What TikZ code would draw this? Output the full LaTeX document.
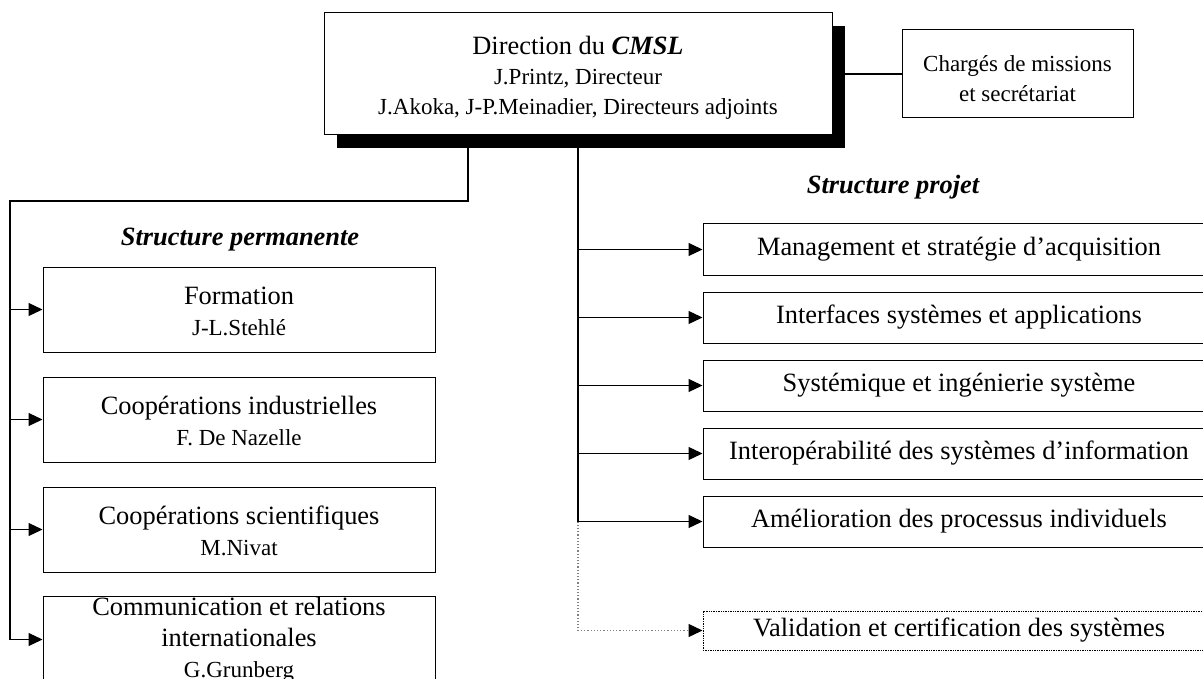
\documentclass[tikz,border=0pt]{standalone}
\usepackage{fontspec}
\setmainfont{Liberation Serif}
\usetikzlibrary{arrows.meta,shadows}

\tikzset{
  box/.style={draw, fill=white, line width=0.5pt, inner sep=0pt, align=center,
    font=\fontsize{13.2}{15.5}\selectfont},
  lbox/.style={box, minimum width=196pt, minimum height=42.5pt},
  rbox/.style={box, minimum width=256pt, minimum height=25.5pt},
  link/.style={line width=0.6pt, -{Triangle[length=7pt,width=6.5pt,color=black]}},
  title/.style={font=\fontsize{13.2}{15.5}\selectfont\bfseries\itshape}
}
\newcommand{\who}[1]{{\fontsize{11.5}{15.5}\selectfont #1}}

\begin{document}
\begin{tikzpicture}[x=0.5pt,y=-0.5pt]
\clip (0,0) rectangle (1203,679);
% direction
\node (dir) [box, minimum width=254pt, minimum height=61pt, font=\fontsize{13.2}{15}\selectfont,
  general shadow={fill=black, shadow xshift=6.5pt, shadow yshift=-6.5pt}] at (578,74)
  {\rule{0pt}{13pt}Direction du \textbf{\textit{CMSL}}\\ \who{J.Printz, Directeur}\\ \who{J.Akoka, J-P.Meinadier, Directeurs adjoints}};
\node (miss) [box, minimum width=115.5pt, minimum height=44pt, font=\fontsize{11.5}{15}\selectfont] at (1017.5,74)
  {\rule{0pt}{12.5pt}Chargés de missions\\ et secrétariat};
\draw [line width=0.6pt] (dir.east) -- (miss.west);

% structure permanente
\node (sperm) [title] at (240,240) {Structure permanente};
\node (form) [lbox] at (239,309.5) {\rule{0pt}{11pt}Formation\\ \who{J-L.Stehlé}};
\node (coopi) [lbox] at (239,419.5) {\rule{0pt}{11pt}Coopérations industrielles\\ \who{F. De Nazelle}};
\node (coops) [lbox] at (239,529.5) {\rule{0pt}{11pt}Coopérations scientifiques\\ \who{M.Nivat}};
\node (comm) [lbox] at (239,639.5) {Communication et relations\\ internationales\\ \who{G.Grunberg}};

% structure projet
\node (sproj) [title] at (893,187) {Structure projet};
\node (mgmt) [rbox] at (959,249.5) {Management et stratégie d’acquisition};
\node (intf) [rbox] at (959,317.5) {Interfaces systèmes et applications};
\node (syst) [rbox] at (959,385.5) {Systémique et ingénierie système};
\node (interop) [rbox] at (959,453.5) {Interopérabilité des systèmes d’information};
\node (amel) [rbox] at (959,521.5) {Amélioration des processus individuels};
\node (valid) [rbox, minimum height=19.5pt, dash pattern=on 0.7pt off 0.5pt] at (959,630.5)
  {Validation et certification des systèmes};

% liens
\coordinate (lt) at (10,201);
\draw [line width=0.6pt] ([xshift=-55pt]dir.south) |- (lt) -- (lt |- comm.west);
\foreach \n in {form,coopi,coops,comm}
  \draw [link] (lt |- \n.west) -- (\n.west);
\draw [line width=1pt] (dir.south) -- (dir.south |- amel.west);
\foreach \n in {mgmt,intf,syst,interop,amel}
  \draw [link] (dir.south |- \n.west) -- (\n.west);
\draw [link, gray, densely dotted] (dir.south |- amel.west) |- (valid.west);
\end{tikzpicture}
\end{document}
